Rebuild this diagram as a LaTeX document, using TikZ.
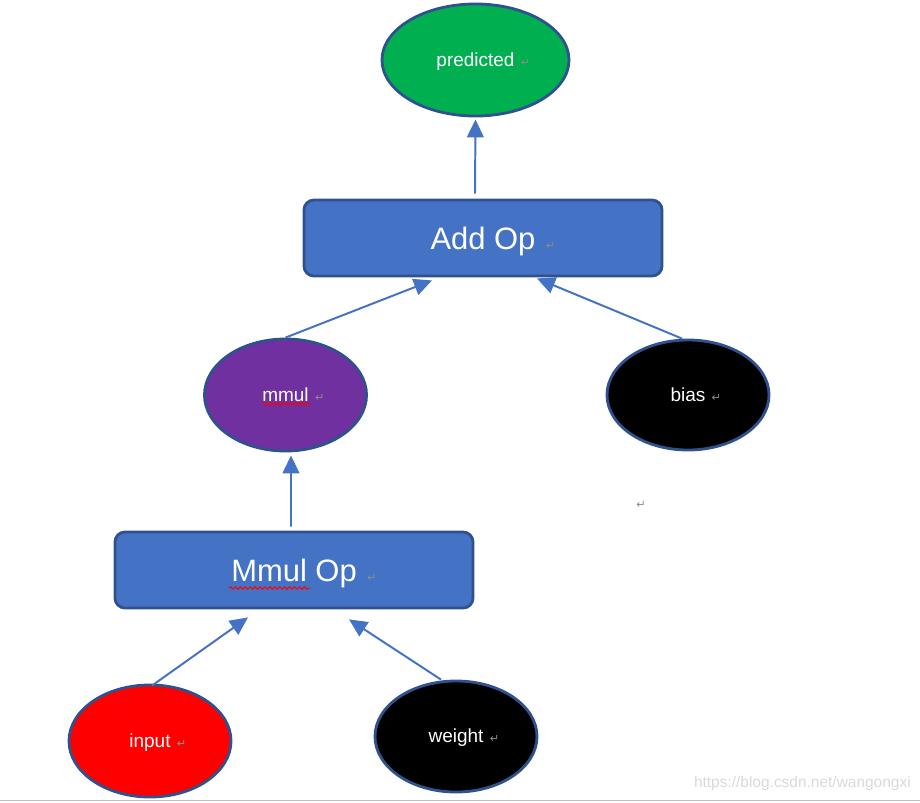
\documentclass[tikz,border=0pt]{standalone}
\usepackage{fontspec}
\setmainfont{Liberation Sans}
\newfontfamily\markfont{DejaVu Sans}
\usepackage{xcolor}
\usepackage{tikz}
\usetikzlibrary{shapes.geometric, arrows.meta, decorations.pathmorphing}

\definecolor{opblue}{HTML}{4472C4}
\definecolor{edgeblue}{HTML}{2F528F}
\definecolor{predgreen}{HTML}{00B050}
\definecolor{mmulpurple}{HTML}{7030A0}
\definecolor{markgray}{HTML}{8C8C8C}

\newcommand{\retmark}{\rlap{\,\,{\markfont\fontsize{8}{9}\selectfont\color{markgray}↵}}}

\begin{document}
\begin{tikzpicture}[
    x=0.025cm, y=-0.025cm,
    opbox/.style={rectangle, rounded corners=0.25cm, draw=edgeblue, fill=opblue, line width=2pt, minimum width=8.95cm, minimum height=1.9cm, text=white, text height=21pt, text depth=5pt, font=\fontsize{22}{26}\selectfont},
    valnode/.style={ellipse, draw=edgeblue, line width=2pt, minimum width=4.05cm, minimum height=2.8cm, inner sep=0pt, text=white, text height=12pt, text depth=3pt, font=\fontsize{13.5}{16}\selectfont},
    flow/.style={draw=opblue, line width=1.4pt, -{Triangle[length=0.45cm, width=0.42cm]}},
    squiggle/.style={red, line width=0.7pt, decorate, decoration={snake, amplitude=0.9pt, segment length=3.5pt}}
]
\useasboundingbox (0,0) rectangle (920,802);

\node[valnode, fill=predgreen, minimum width=4.675cm] (predicted) at (475.5,60) {predicted\retmark};
\node[opbox] (addop) at (483,238) {Add Op\retmark};
\node[valnode, fill=mmulpurple] (mmul) at (285.5,395) {mmul\retmark};
\node[valnode, fill=black, minimum height=2.75cm] (bias) at (688,395) {bias\retmark};
\node[opbox] (mmulop) at (294,570) {Mmul Op\retmark};
\node[valnode, fill=red] (input) at (150,741) {input\retmark};
\node[valnode, fill=black, minimum height=2.775cm] (weight) at (456,736.5) {weight\retmark};

\node[inner sep=0pt] (strayret) at (641,505) {\markfont\fontsize{8}{9}\selectfont\color{markgray}↵};

% spell-check underlines
\draw[squiggle] (229,588) -- (310,588);
\draw[squiggle] (262,404) -- (310,404);

\draw[flow] ([xshift=-0.2cm, yshift=0.125cm]addop.north) -- ([yshift=-0.05cm]predicted.south);
\draw[flow] (mmul.north) -- ([xshift=-1.275cm, yshift=-0.075cm]addop.south);
\draw[flow] ([xshift=-0.15cm]bias.north) -- ([xshift=1.35cm, yshift=-0.025cm]addop.south);
\draw[flow] ([xshift=-0.075cm, yshift=0.1cm]mmulop.north) -- ([xshift=0.1375cm, yshift=-0.075cm]mmul.south);
\draw[flow] ([xshift=0.05cm, yshift=-0.05cm]input.north) -- ([xshift=-1.15cm, yshift=-0.2cm]mmulop.south);
\draw[flow] ([xshift=-0.375cm]weight.north) -- ([xshift=1.375cm, yshift=-0.25cm]mmulop.south);

\node[anchor=east, inner sep=0pt, text=black!15, font=\fontsize{11}{13}\selectfont] (watermark) at (911,783) {https://blog.csdn.net/wangongxi};
\draw[black!25, line width=1.4pt] (0,800.5) -- (920,800.5);

\end{tikzpicture}
\end{document}
